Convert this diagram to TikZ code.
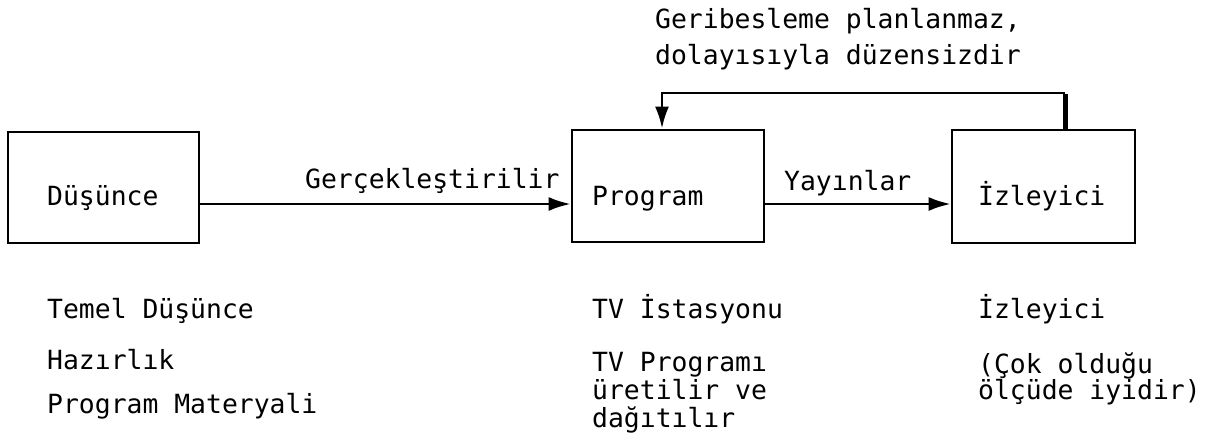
\documentclass[tikz,border=0pt]{standalone}
\usepackage{fontspec}
\usetikzlibrary{arrows.meta}
\newfontfamily\typewriter{DejaVu Sans Mono}
\tikzset{
  box/.style={draw, line width=2.8pt, inner sep=0pt},
  lbl/.style={anchor=base west, inner sep=0pt,
    font=\typewriter\fontsize{26.4}{32}\selectfont},
  tip/.style={-{Latex[length=22pt,width=14pt]}},
  flow/.style={line width=2.4pt, tip},
  feed/.style={line width=2.8pt, tip},
}
\begin{document}
\begin{tikzpicture}[x=1pt,y=-1pt]
\useasboundingbox (0,0) rectangle (1215,440);

% the three stages
\node[box, minimum width=191pt, minimum height=111pt] (dus)  at (103.5,187.5) {};
\node[box, minimum width=192pt, minimum height=112pt] (prog) at (668,186) {};
\node[box, minimum width=183pt, minimum height=113pt] (izl)  at (1043.5,186.5) {};

\node[lbl] (tdus)  at (47,205)  {Düşünce};
\node[lbl] (tprog) at (592,205) {Program};
\node[lbl] (tizl)  at (978,205) {İzleyici};

% forward flow
\coordinate (row) at (0,204);
\draw[flow] (dus.east |- row) -- (prog.west |- row);
\draw[flow] (prog.east |- row) -- (izl.west |- row);
\node[lbl] (gerc) at (305,188) {Gerçekleştirilir};
\node[lbl] (yay)  at (784,190) {Yayınlar};

% feedback loop
\coordinate (fbR) at (1065,93);
\coordinate (fbL) at (662,93);
\draw[line width=5pt] (izl.north -| fbR) -- ([yshift=-1.4pt]fbR);
\draw[feed] (fbR) -- (fbL) -- (prog.north -| fbL);
\node[lbl] (geri1) at (655,28) {Geribesleme planlanmaz,};
\node[lbl] (geri2) at (655,64) {dolayısıyla düzensizdir};

% notes under the stages
\node[lbl] (n11) at (47,318)  {Temel Düşünce};
\node[lbl] (n12) at (47,369)  {Hazırlık};
\node[lbl] (n13) at (47,413)  {Program Materyali};

\node[lbl] (n21) at (592,318) {TV İstasyonu};
\node[lbl] (n22) at (592,371) {TV Programı};
\node[lbl] (n23) at (592,399) {üretilir ve};
\node[lbl] (n24) at (592,427) {dağıtılır};

\node[lbl] (n31) at (978,318) {İzleyici};
\node[lbl] (n32) at (978,373) {(Çok olduğu};
\node[lbl] (n33) at (978,399) {ölçüde iyidir)};
\end{tikzpicture}
\end{document}
